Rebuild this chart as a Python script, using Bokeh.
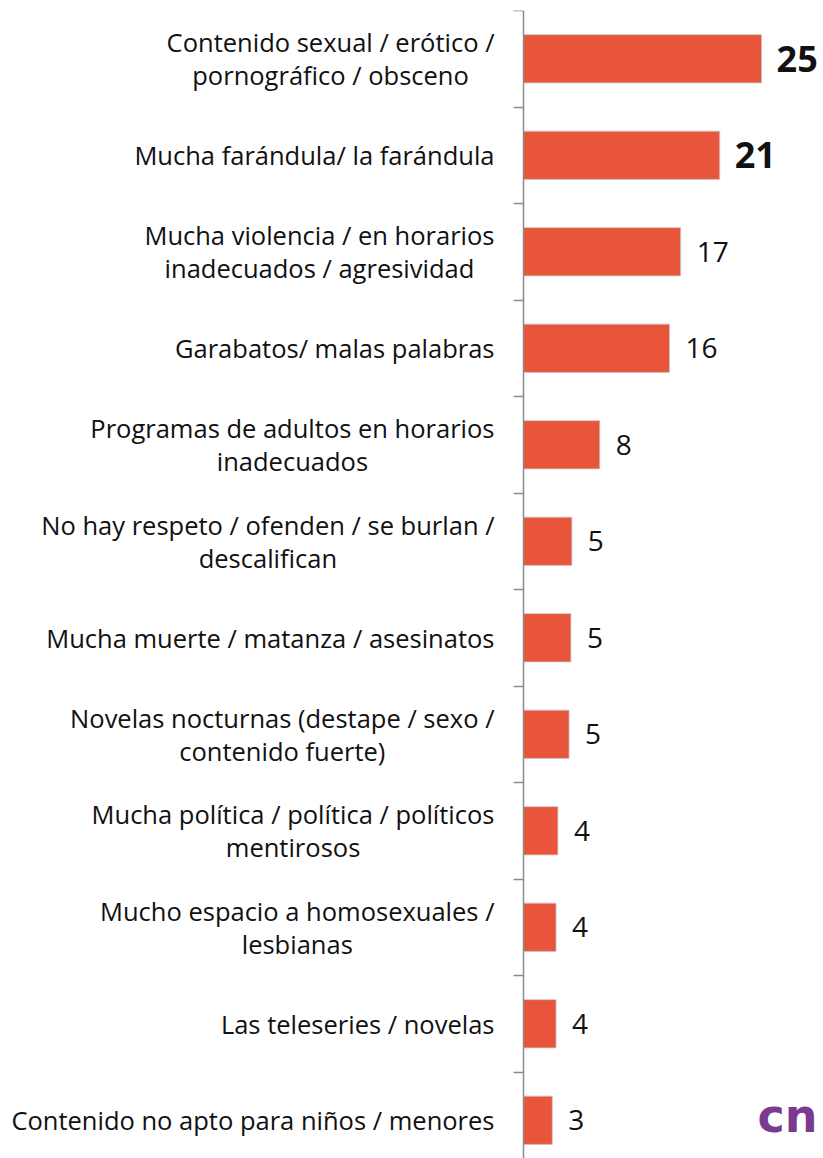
from bokeh.plotting import figure
from bokeh.models import (Range1d, FixedTicker, ColumnDataSource, Label)
from bokeh.core.properties import value
from bokeh.embed import file_html
from bokeh.resources import INLINE

categories = [
    "Contenido sexual / erótico /\npornográfico / obsceno",
    "Mucha farándula/ la farándula",
    "Mucha violencia / en horarios\ninadecuados / agresividad",
    "Garabatos/ malas palabras",
    "Programas de adultos en horarios\ninadecuados",
    "No hay respeto / ofenden / se burlan /\ndescalifican",
    "Mucha muerte / matanza / asesinatos",
    "Novelas nocturnas (destape / sexo /\ncontenido fuerte)",
    "Mucha política / política / políticos\nmentirosos",
    "Mucho espacio a homosexuales /\nlesbianas",
    "Las teleseries / novelas",
    "Contenido no apto para niños / menores",
]
values = [25.6, 21.1, 16.9, 15.7, 8.2, 5.2, 5.1, 4.9, 3.7, 3.5, 3.5, 3.1]
value_labels = ["25", "21", "17", "16", "8", "5", "5", "5", "4", "4", "4", "3"]
bold_flags = [True, True, False, False, False, False, False, False, False, False, False, False]

FONT = "Open Sans"
BAR_COLOR = "#E8553A"
AXIS_COLOR = "#8C8C8C"
TEXT_COLOR = "#111111"

n = len(categories)
ypos = list(range(n))

W, H = 823, 1158
axis_px = 523          # horizontal pixel position of the value axis
frame_top = 10
row_px = 96.5
frame_h = H - frame_top
px_per_unit = 9.3

p = figure(width=W, height=H, output_backend="svg", toolbar_location=None,
           x_range=Range1d(-axis_px / px_per_unit, (W - axis_px) / px_per_unit),
           y_range=Range1d(-0.5 + frame_h / row_px, -0.5),
           min_border_left=0, min_border_right=0,
           min_border_top=frame_top, min_border_bottom=0,
           x_axis_location=None, y_axis_location="left")
p.outline_line_color = None
p.grid.visible = False
p.background_fill_color = "white"
p.border_fill_color = "white"

# value axis at x = 0 with tick marks between categories
ax = p.yaxis[0]
ax.fixed_location = 0
bounds = [i - 0.5 for i in range(n + 1)]
ax.ticker = FixedTicker(ticks=bounds, minor_ticks=[])
ax.major_label_overrides = {b: "" for b in bounds}
ax.major_label_text_font_size = "1px"
ax.major_label_standoff = 0
ax.axis_line_color = AXIS_COLOR
ax.axis_line_width = 1.5
ax.major_tick_line_color = AXIS_COLOR
ax.major_tick_line_width = 1.5
ax.major_tick_out = 10
ax.major_tick_in = 0
ax.minor_tick_line_color = None

# category labels: block right-aligned, lines centred
cat_src = ColumnDataSource(dict(y=ypos, x=[0] * n, t=categories))
p.text(x="x", y="y", text="t", source=cat_src, x_offset=-29,
       anchor="center_right", text_align="center",
       text_font=value(FONT), text_font_size="25.5px",
       text_color=TEXT_COLOR, text_line_height=0.98)

src = ColumnDataSource(dict(y=ypos, v=values))
p.hbar(y="y", right="v", left=0, height=0.5, source=src,
       fill_color=BAR_COLOR, line_color="#C8C8C8", line_width=0.8)

norm = ColumnDataSource(dict(y=[y for y, b in zip(ypos, bold_flags) if not b],
                             v=[v for v, b in zip(values, bold_flags) if not b],
                             lbl=[l for l, b in zip(value_labels, bold_flags) if not b]))
bold = ColumnDataSource(dict(y=[y for y, b in zip(ypos, bold_flags) if b],
                             v=[v for v, b in zip(values, bold_flags) if b],
                             lbl=[l for l, b in zip(value_labels, bold_flags) if b]))
p.text(x="v", y="y", text="lbl", source=norm, x_offset=16,
       text_font=value(FONT), text_font_size="28px", text_color=TEXT_COLOR,
       text_baseline="middle", text_align="left")
p.text(x="v", y="y", text="lbl", source=bold, x_offset=15,
       text_font=value(FONT), text_font_size="36px", text_font_style="bold",
       text_color=TEXT_COLOR, text_baseline="middle", text_align="left")

logo = Label(x=757, y=16, x_units="screen", y_units="screen", text="cn",
             text_font="DejaVu Sans", text_font_size="46px",
             text_font_style="bold", text_color="#7B3A8F")
p.add_layout(logo)

open("out.html", "w").write(file_html(p, INLINE))
